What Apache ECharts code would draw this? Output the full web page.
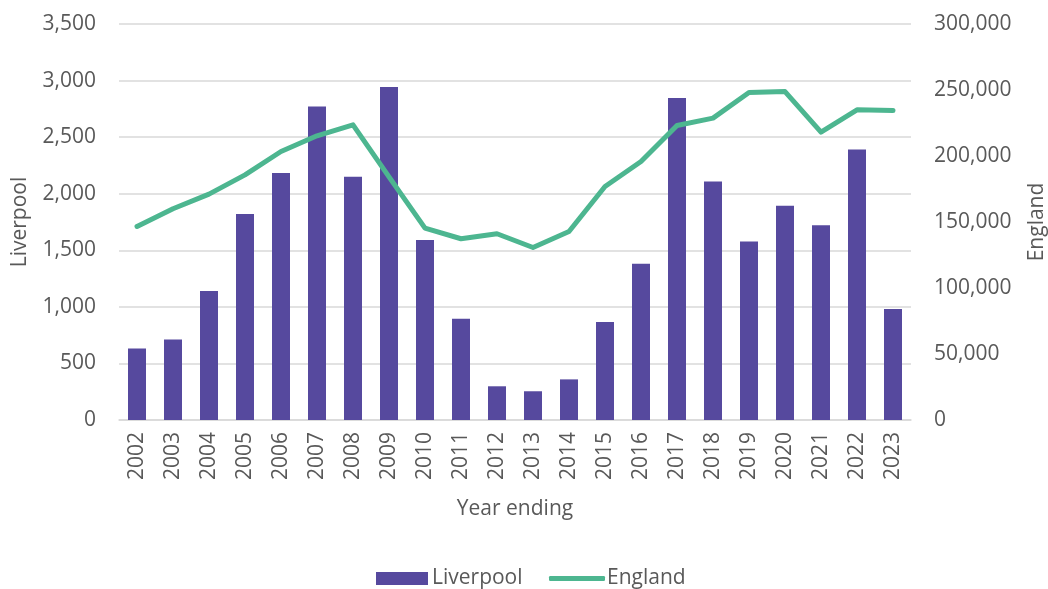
<!DOCTYPE html>
<html>
<head>
<meta charset="utf-8">
<script src="https://cdn.jsdelivr.net/npm/echarts@6/dist/echarts.min.js"></script>
<style>
html,body{margin:0;padding:0;background:#fff;}
#chart{width:1048px;height:589px;}
</style>
</head>
<body>
<div id="chart"></div>
<script>
const years = ['2002','2003','2004','2005','2006','2007','2008','2009','2010','2011','2012','2013','2014','2015','2016','2017','2018','2019','2020','2021','2022','2023'];
const liverpool = [632, 712, 1140, 1820, 2182, 2770, 2150, 2944, 1590, 895, 298, 254, 359, 867, 1382, 2847, 2108, 1578, 1893, 1722, 2390, 980];
const england = [146600, 160000, 171100, 185700, 203400, 215300, 223600, 184200, 145400, 137300, 141100, 130700, 142800, 176900, 195800, 223100, 228700, 248100, 248800, 218100, 235000, 234400];

const fmt = v => Number(v).toLocaleString('en-US');
const textColor = '#595959';
const gridColor = '#d9d9d9';
const barColor = '#56499E';
const lineColor = '#4DB690';
const font = '"Open Sans", "Noto Sans", sans-serif';
const fs = 21;

const chart = echarts.init(document.getElementById('chart'), null, {renderer: 'canvas'});
chart.setOption({
  animation: false,
  backgroundColor: '#ffffff',
  textStyle: {fontFamily: font},
  grid: {left: 119, right: 137, top: 24, bottom: 169, containLabel: false, outerBoundsMode: 'none'},
  legend: [
    {
      left: 376,
      top: 568,
      padding: 0,
      itemWidth: 52,
      itemHeight: 13,
      itemGap: 4,
      icon: 'rect',
      textStyle: {color: textColor, fontSize: fs, fontFamily: font, padding: [0, 0, 0, -1]},
      data: ['Liverpool']
    },
    {
      left: 549,
      top: 568,
      padding: 0,
      itemWidth: 56,
      itemHeight: 5,
      icon: 'roundRect',
      textStyle: {color: textColor, fontSize: fs, fontFamily: font, padding: [0, 0, 0, -3]},
      data: [{name: 'England', itemStyle: {color: lineColor}}]
    }
  ],
  xAxis: {
    type: 'category',
    data: years,
    boundaryGap: true,
    axisTick: {show: false},
    axisLine: {lineStyle: {color: gridColor, width: 1.5}},
    axisLabel: {rotate: 90, margin: 12, color: textColor, fontSize: fs, fontFamily: font, interval: 0},
    name: 'Year ending',
    nameLocation: 'middle',
    nameGap: 79,
    nameTextStyle: {color: textColor, fontSize: fs, fontFamily: font}
  },
  yAxis: [
    {
      type: 'value',
      min: 0, max: 3500, interval: 500,
      axisLine: {show: false},
      axisTick: {show: false},
      splitLine: {lineStyle: {color: gridColor, width: 1.5}},
      axisLabel: {margin: 23, color: textColor, fontSize: fs, fontFamily: font, formatter: fmt},
      name: 'Liverpool',
      nameLocation: 'middle',
      nameRotate: 90,
      nameGap: 88,
      nameTextStyle: {color: textColor, fontSize: fs, fontFamily: font}
    },
    {
      type: 'value',
      min: 0, max: 300000, interval: 50000,
      position: 'right',
      axisLine: {show: false},
      axisTick: {show: false},
      splitLine: {show: false},
      axisLabel: {margin: 23, color: textColor, fontSize: fs, fontFamily: font, formatter: fmt},
      name: 'England',
      nameLocation: 'middle',
      nameRotate: 90,
      nameGap: 116,
      nameTextStyle: {color: textColor, fontSize: fs, fontFamily: font}
    }
  ],
  series: [
    {
      name: 'Liverpool',
      type: 'bar',
      yAxisIndex: 0,
      data: liverpool,
      barCategoryGap: '50%',
      itemStyle: {color: barColor}
    },
    {
      name: 'England',
      type: 'line',
      yAxisIndex: 1,
      data: england,
      symbol: 'none',
      showSymbol: false,
      smooth: false,
      lineStyle: {color: lineColor, width: 5, cap: 'round', join: 'round'},
      itemStyle: {color: lineColor},
      z: 3
    }
  ]
});
</script>
</body>
</html>
